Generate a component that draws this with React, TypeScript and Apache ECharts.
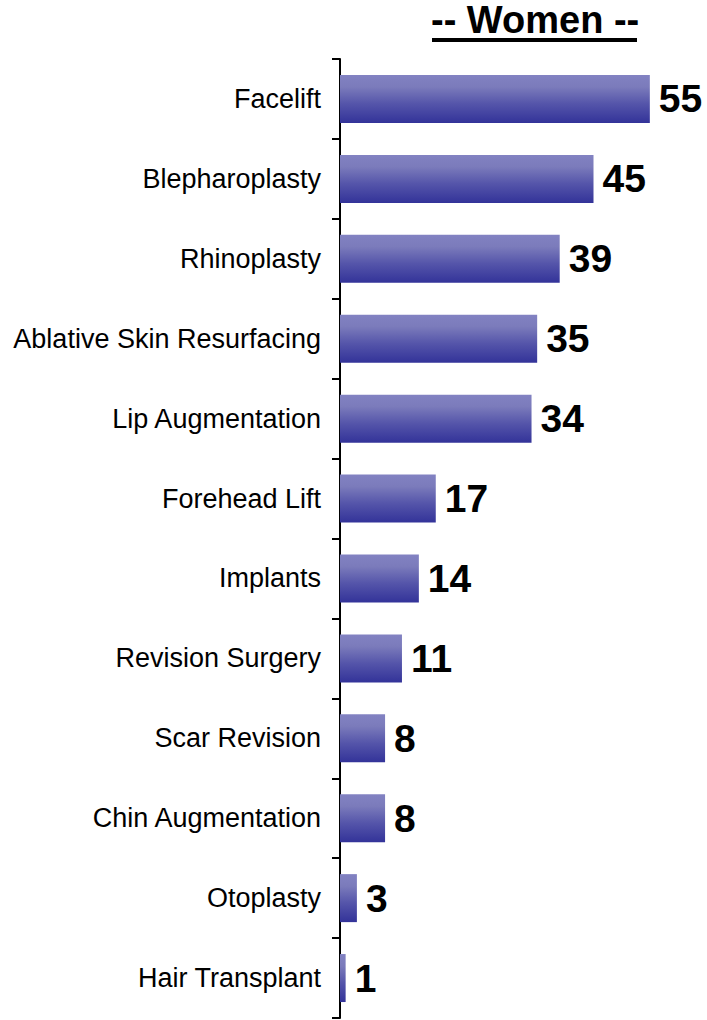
import React, { useEffect, useRef } from "react";
import * as echarts from "echarts";

const categories = [
  "Facelift",
  "Blepharoplasty",
  "Rhinoplasty",
  "Ablative Skin Resurfacing",
  "Lip Augmentation",
  "Forehead Lift",
  "Implants",
  "Revision Surgery",
  "Scar Revision",
  "Chin Augmentation",
  "Otoplasty",
  "Hair Transplant",
];
const values = [55, 45, 39, 35, 34, 17, 14, 11, 8, 8, 3, 1];
const titleText = "-- Women --";

const FONT = "'Liberation Sans', Arial, Helvetica, sans-serif";

export default function App() {
  const ref = useRef<HTMLDivElement>(null);
  useEffect(() => {
    if (!ref.current) return;
    const chart = echarts.init(ref.current, null, { renderer: "svg" });
    chart.setOption({
      animation: false,
      backgroundColor: "#ffffff",
      textStyle: { fontFamily: FONT },
      grid: { left: 340, right: 29, top: 59, bottom: 2, containLabel: false },
      xAxis: {
        type: "value",
        min: 0,
        max: 60,
        show: false,
      },
      yAxis: {
        type: "category",
        data: categories,
        inverse: true,
        axisLine: { show: true, lineStyle: { color: "#000", width: 2 } },
        axisTick: {
          show: true,
          alignWithLabel: false,
          length: 8,
          lineStyle: { color: "#000", width: 2 },
        },
        axisLabel: {
          margin: 19,
          color: "#000",
          fontSize: 27,
          fontFamily: FONT,
        },
        splitLine: { show: false },
      },
      graphic: [
        {
          type: "text",
          left: 431,
          top: 1,
          style: {
            text: titleText,
            fontSize: 38,
            fontWeight: "bold",
            fontFamily: FONT,
            fill: "#000",
          },
        },
        {
          type: "rect",
          shape: { x: 432, y: 38, width: 205, height: 4 },
          style: { fill: "#000" },
        },
      ],
      series: [
        {
          type: "bar",
          data: values,
          barWidth: 48,
          itemStyle: {
            color: new echarts.graphic.LinearGradient(0, 0, 0, 1, [
              { offset: 0, color: "#8282c2" },
              { offset: 0.25, color: "#7b7bbb" },
              { offset: 0.6, color: "#5555aa" },
              { offset: 1, color: "#333399" },
            ]),
          },
          label: {
            show: true,
            position: "right",
            distance: 9,
            color: "#000",
            fontSize: 39,
            fontWeight: "bold",
            fontFamily: FONT,
          },
        },
      ],
    });
    return () => chart.dispose();
  }, []);
  return (
    <div
      ref={ref}
      style={{ position: "absolute", left: 0, top: 0, width: 707, height: 1020 }}
    />
  );
}
